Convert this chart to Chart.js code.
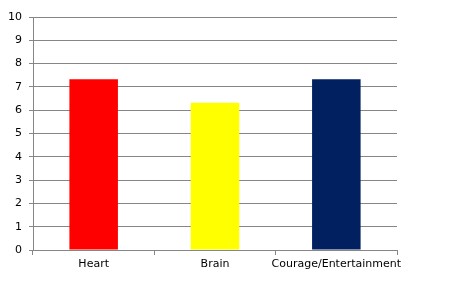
<!DOCTYPE html>
<html>
<head>
<meta charset="utf-8">
<script src="https://cdn.jsdelivr.net/npm/chart.js@4"></script>
<style>
  html, body { margin: 0; padding: 0; background: #fff; }
  #wrap { width: 473px; height: 291px; }
</style>
</head>
<body>
<div id="wrap"><canvas id="grafico"></canvas></div>
<script>
// dados do gráfico
const categorias = ['Heart', 'Brain', 'Courage/Entertainment'];
const valores = [7.33, 6.32, 7.33];
const cores = ['#FF0000', '#FFFF00', '#002060'];

const config = {
    type: 'bar',
    data: {
        labels: categorias,
        datasets: [{
            data: valores,
            backgroundColor: cores,
            borderWidth: 0,
            categoryPercentage: 1.0,
            barPercentage: 0.4
        }]
    },
    options: {
        responsive: true,
        maintainAspectRatio: false,
        animation: false,
        layout: {
            padding: { left: 0, top: 17, right: 76, bottom: 0 }
        },
        plugins: {
            legend: { display: false },
            tooltip: { enabled: false }
        },
        scales: {
            x: {
                afterFit: function (scale) { scale.height = 41; },
                grid: {
                    offset: true,
                    drawOnChartArea: false,
                    color: '#868686',
                    tickLength: 5
                },
                border: { color: '#868686' },
                ticks: {
                    color: '#000',
                    padding: 3,
                    maxRotation: 0,
                    minRotation: 0,
                    autoSkip: false,
                    font: { family: 'DejaVu Sans', size: 11 }
                }
            },
            y: {
                min: 0,
                max: 10,
                afterFit: function (scale) { scale.width = 33; },
                grid: {
                    color: '#868686',
                    tickLength: 4
                },
                border: { color: '#868686' },
                ticks: {
                    stepSize: 1,
                    color: '#000',
                    padding: 7,
                    font: { family: 'DejaVu Sans', size: 11 }
                }
            }
        }
    }
};

const ctx = document.getElementById('grafico').getContext('2d');
const grafico = new Chart(ctx, config);
</script>
</body>
</html>
